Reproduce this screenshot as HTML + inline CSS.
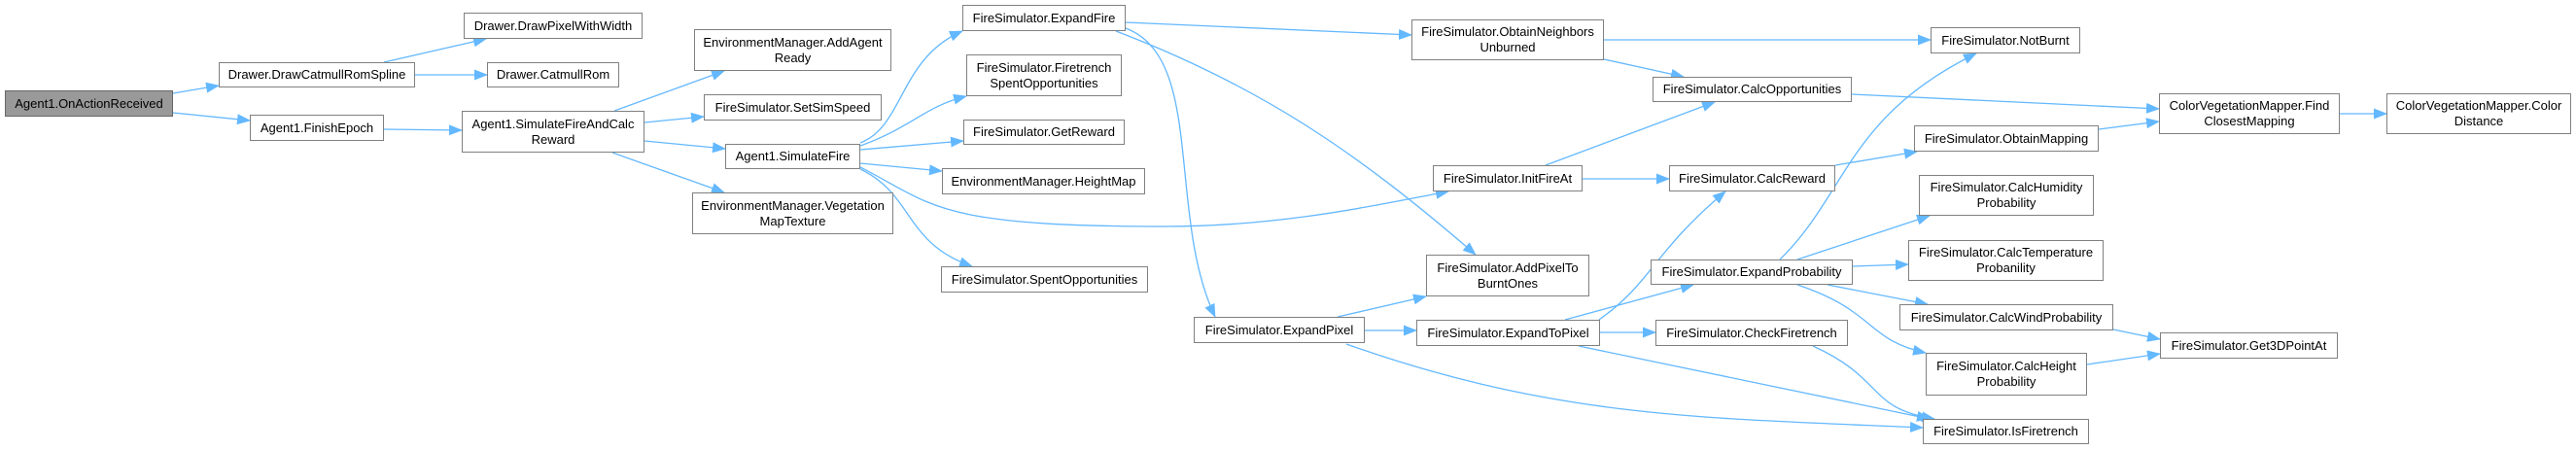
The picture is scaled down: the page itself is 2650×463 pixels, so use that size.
<!DOCTYPE html>
<html><head><meta charset="utf-8"><style>
html,body{margin:0;padding:0;background:#fff;}
body{width:2650px;height:463px;position:relative;overflow:hidden;font-family:"Liberation Sans",Arial,sans-serif;}
.n{position:absolute;box-sizing:border-box;border:1.5px solid #808080;background:#fff;font-size:13px;color:#000;display:flex;align-items:center;justify-content:center;text-align:center;line-height:16px;white-space:nowrap;}
.g{background:#999;border-color:#666;}
svg{position:absolute;left:0;top:0;}
</style></head><body>
<svg width="2650" height="463" viewBox="0 0 2650 463">
<defs><marker id="a" markerUnits="userSpaceOnUse" markerWidth="14" markerHeight="11" refX="13" refY="5.5" orient="auto"><path d="M0,0 L14,5.5 L0,11 z" fill="#63b8ff"/></marker></defs>
<g fill="none" stroke="#63b8ff" stroke-width="1.3" marker-end="url(#a)">
<path d="M178,96 L225,88"/>
<path d="M178,116 L257,124"/>
<path d="M395,64 L500,40"/>
<path d="M427,77 L501,77"/>
<path d="M395,133 L475,134"/>
<path d="M632,114 L745,73"/>
<path d="M663,126 L724,120"/>
<path d="M663,145 L746,153"/>
<path d="M630,157 L745,198"/>
<path d="M885,147 C930,130 925,60 990,32"/>
<path d="M885,150 C940,130 950,110 994,99"/>
<path d="M885,154 L991,145"/>
<path d="M885,168 L969,176"/>
<path d="M885,172 C960,210 960,233 1198,233 C1320,233 1420,210 1490,197"/>
<path d="M885,174 C940,200 930,250 1000,274"/>
<path d="M1158,23 L1452,36"/>
<path d="M1148,32 C1300,90 1400,160 1518,262"/>
<path d="M1158,29 C1240,60 1200,220 1250,326"/>
<path d="M1650,41 L1986,41"/>
<path d="M1650,61 L1732,79"/>
<path d="M1590,170 L1764,105"/>
<path d="M1628,184 L1717,184"/>
<path d="M1905,97 L2221,112"/>
<path d="M1888,170 L1972,156"/>
<path d="M2159,133 L2221,125"/>
<path d="M2407,117 L2455,117"/>
<path d="M1376,326 L1467,305"/>
<path d="M1404,340 L1457,340"/>
<path d="M1385,354 C1600,430 1750,430 1978,440"/>
<path d="M1645,329 C1700,290 1700,260 1775,197"/>
<path d="M1610,329 L1742,293"/>
<path d="M1646,342 L1703,342"/>
<path d="M1624,356 L1985,431"/>
<path d="M1865,356 C1940,390 1920,420 1990,431"/>
<path d="M1831,267 C1900,200 1900,120 2033,55"/>
<path d="M1849,267 L1985,222"/>
<path d="M1906,274 L1963,272"/>
<path d="M1880,293 L1983,313"/>
<path d="M1849,293 C1930,320 1920,350 1981,363"/>
<path d="M2174,339 L2222,349"/>
<path d="M2147,375 L2222,364"/>
</g></svg>
<div class="n g" style="left:5px;top:93px;width:173px;height:27px">Agent1.OnActionReceived</div>
<div class="n" style="left:225px;top:64px;width:202px;height:26px">Drawer.DrawCatmullRomSpline</div>
<div class="n" style="left:477px;top:13px;width:184px;height:27px">Drawer.DrawPixelWithWidth</div>
<div class="n" style="left:501px;top:64px;width:136px;height:26px">Drawer.CatmullRom</div>
<div class="n" style="left:257px;top:118px;width:138px;height:27px">Agent1.FinishEpoch</div>
<div class="n" style="left:475px;top:114px;width:188px;height:43px">Agent1.SimulateFireAndCalc<br>Reward</div>
<div class="n" style="left:714px;top:30px;width:203px;height:43px">EnvironmentManager.AddAgent<br>Ready</div>
<div class="n" style="left:724px;top:97px;width:183px;height:27px">FireSimulator.SetSimSpeed</div>
<div class="n" style="left:746px;top:148px;width:139px;height:26px">Agent1.SimulateFire</div>
<div class="n" style="left:712px;top:198px;width:207px;height:43px">EnvironmentManager.Vegetation<br>MapTexture</div>
<div class="n" style="left:990px;top:5px;width:168px;height:27px">FireSimulator.ExpandFire</div>
<div class="n" style="left:994px;top:56px;width:160px;height:43px">FireSimulator.Firetrench<br>SpentOpportunities</div>
<div class="n" style="left:991px;top:123px;width:166px;height:26px">FireSimulator.GetReward</div>
<div class="n" style="left:969px;top:173px;width:209px;height:27px">EnvironmentManager.HeightMap</div>
<div class="n" style="left:968px;top:274px;width:213px;height:27px">FireSimulator.SpentOpportunities</div>
<div class="n" style="left:1452px;top:20px;width:198px;height:42px">FireSimulator.ObtainNeighbors<br>Unburned</div>
<div class="n" style="left:1700px;top:79px;width:205px;height:26px">FireSimulator.CalcOpportunities</div>
<div class="n" style="left:1474px;top:170px;width:154px;height:27px">FireSimulator.InitFireAt</div>
<div class="n" style="left:1717px;top:170px;width:171px;height:27px">FireSimulator.CalcReward</div>
<div class="n" style="left:1467px;top:262px;width:168px;height:43px">FireSimulator.AddPixelTo<br>BurntOnes</div>
<div class="n" style="left:1698px;top:267px;width:208px;height:26px">FireSimulator.ExpandProbability</div>
<div class="n" style="left:1228px;top:326px;width:176px;height:27px">FireSimulator.ExpandPixel</div>
<div class="n" style="left:1457px;top:329px;width:189px;height:27px">FireSimulator.ExpandToPixel</div>
<div class="n" style="left:1703px;top:329px;width:198px;height:27px">FireSimulator.CheckFiretrench</div>
<div class="n" style="left:1986px;top:28px;width:154px;height:27px">FireSimulator.NotBurnt</div>
<div class="n" style="left:2221px;top:96px;width:186px;height:42px">ColorVegetationMapper.Find<br>ClosestMapping</div>
<div class="n" style="left:2455px;top:96px;width:190px;height:42px">ColorVegetationMapper.Color<br>Distance</div>
<div class="n" style="left:1969px;top:129px;width:190px;height:27px">FireSimulator.ObtainMapping</div>
<div class="n" style="left:1974px;top:180px;width:180px;height:42px">FireSimulator.CalcHumidity<br>Probability</div>
<div class="n" style="left:1963px;top:247px;width:201px;height:42px">FireSimulator.CalcTemperature<br>Probanility</div>
<div class="n" style="left:1954px;top:313px;width:220px;height:27px">FireSimulator.CalcWindProbability</div>
<div class="n" style="left:2222px;top:342px;width:183px;height:27px">FireSimulator.Get3DPointAt</div>
<div class="n" style="left:1981px;top:363px;width:166px;height:44px">FireSimulator.CalcHeight<br>Probability</div>
<div class="n" style="left:1978px;top:431px;width:171px;height:26px">FireSimulator.IsFiretrench</div>
</body></html>
